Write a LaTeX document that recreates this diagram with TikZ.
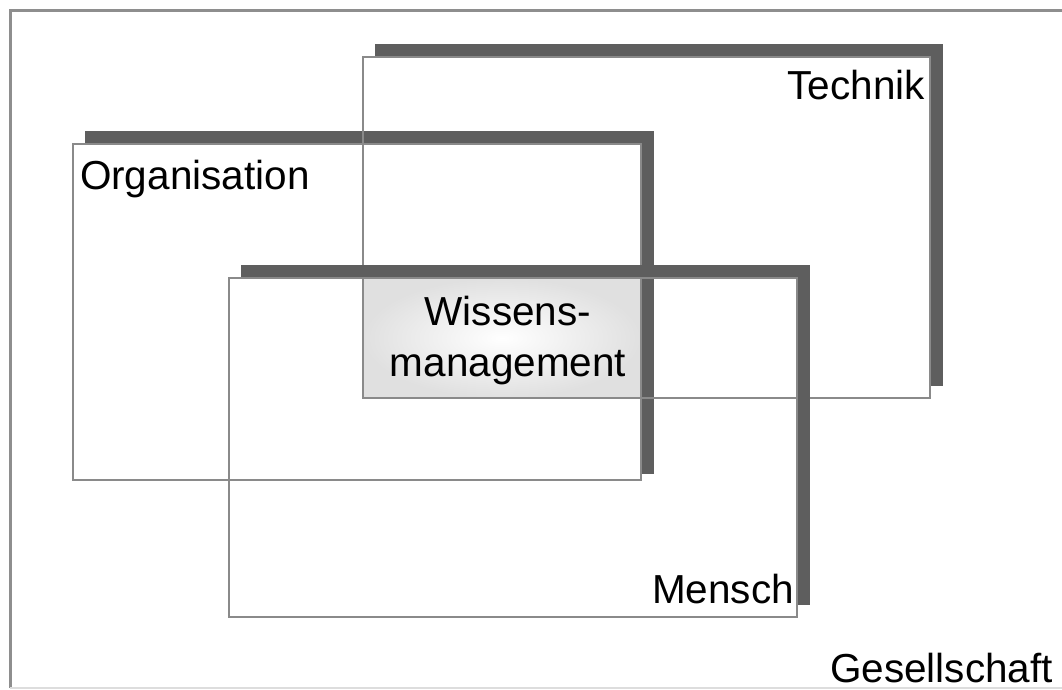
\documentclass[tikz,border=0pt]{standalone}
\usepackage{fontspec}
\setmainfont{Liberation Sans}
\definecolor{framegray}{HTML}{8E8E8E}
\definecolor{boxgray}{HTML}{8A8A8A}
\definecolor{shadowgray}{HTML}{5E5E5E}
\definecolor{coregray}{HTML}{E0E0E0}
\begin{document}
\begin{tikzpicture}[x=1pt,y=-1pt,
  area/.style={rectangle, draw=boxgray, line width=2.5pt, inner sep=0pt, outer sep=0pt},
  shadowbar/.style={draw=shadowgray, line width=12pt, line join=miter, line cap=butt},
  lbl/.style={inner sep=0pt, outer sep=0pt, font=\fontsize{40.5}{46}\selectfont}]

\useasboundingbox (0,0) rectangle (1062,689);

% outer frame (society)
\coordinate (fbl) at (10,688);
\coordinate (ftl) at (10,10);
\coordinate (ftr) at (1062,10);
\coordinate (fbr) at (1062,688);
\draw[framegray, line width=3pt] (fbl) -- (ftl) -- (ftr);
\draw[framegray!30, line width=1.5pt] (fbl) -- (fbr);

% the three areas
\node[area, minimum width=568pt, minimum height=336pt] (org) at (357,312) {};
\node[area, minimum width=567pt, minimum height=341pt] (tech) at (646.5,227.5) {};
\node[area, minimum width=568pt, minimum height=339pt] (mensch) at (513,447.5) {};

% common core of all three areas
\shade[inner color=white, outer color=coregray]
  (tech.west |- mensch.north) rectangle (org.east |- tech.south);

% redraw area borders and their shadows, back to front
\node[area, minimum width=568pt, minimum height=336pt] at (org) {};
\draw[shadowbar] ([xshift=12pt,yshift=7pt]org.north west) -- ([xshift=7pt,yshift=7pt]org.north east) -- ([xshift=7pt,yshift=6pt]org.south east);
\node[area, minimum width=567pt, minimum height=341pt] at (tech) {};
\draw[shadowbar] ([xshift=12pt,yshift=7pt]tech.north west) -- ([xshift=7pt,yshift=7pt]tech.north east) -- ([xshift=7pt,yshift=12pt]tech.south east);
\node[area, minimum width=568pt, minimum height=339pt] at (mensch) {};
\draw[shadowbar] ([xshift=12pt,yshift=7pt]mensch.north west) -- ([xshift=7pt,yshift=7pt]mensch.north east) -- ([xshift=7pt,yshift=12pt]mensch.south east);

% labels
\node[lbl, anchor=base east] (ltech) at (925,99) {Technik};
\node[lbl, anchor=base west] (lorg) at (80,189) {Organisation};
\node[lbl, anchor=base east] (lmensch) at (794,603) {Mensch};
\node[lbl, anchor=base east] (lges) at (1053,682) {Gesellschaft};
\node[lbl, align=center, anchor=center] (wm) at (508,341) {Wissens-\\[5pt]management};
\end{tikzpicture}
\end{document}
